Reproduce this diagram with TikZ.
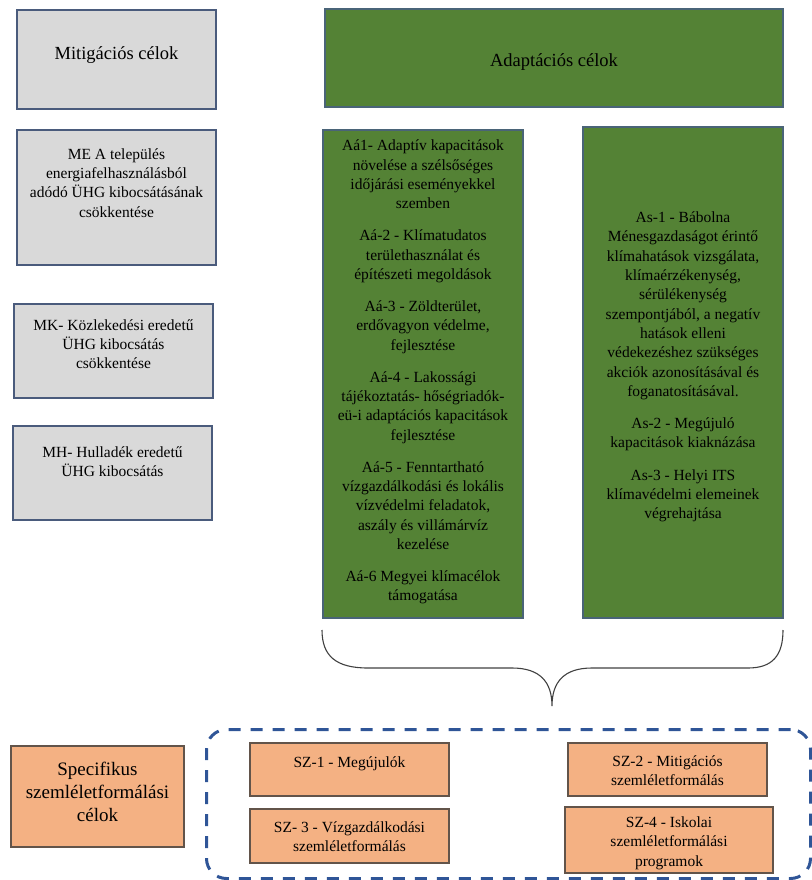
\documentclass[tikz,border=0pt]{standalone}
\usepackage{fontspec}
\setmainfont{Liberation Serif}
\definecolor{grayfill}{HTML}{D9D9D9}
\definecolor{grayedge}{HTML}{4A5B7C}
\definecolor{greenfill}{HTML}{548235}
\definecolor{greenedge}{HTML}{4A6478}
\definecolor{orangefill}{HTML}{F4B183}
\definecolor{orangeedge}{HTML}{62544A}
\definecolor{dashblue}{HTML}{2F5597}
\definecolor{bracegray}{HTML}{404040}
\tikzset{
  boxbase/.style={anchor=north west, inner sep=0pt, outer sep=0pt},
  graybox/.style={boxbase, draw=grayedge, fill=grayfill, line width=1.3pt},
  greenbox/.style={boxbase, draw=greenedge, fill=greenfill, line width=1.2pt},
  orangebox/.style={boxbase, draw=orangeedge, fill=orangefill, line width=1.2pt},
  bodytxt/.style={align=center, inner sep=0pt, font=\fontsize{15.5}{19.3}\selectfont},
  titletxt/.style={align=center, inner sep=0pt, font=\fontsize{18.5}{22}\selectfont},
  spectxt/.style={align=center, inner sep=0pt, font=\fontsize{19}{23.3}\selectfont},
  dashbox/.style={anchor=north west, draw=dashblue, line width=3pt, dash pattern=on 12pt off 10pt, rounded corners=20pt},
  bracestyle/.style={draw=bracegray, line width=1.1pt}
}
\begin{document}
\begin{tikzpicture}[x=1pt, y=-1pt]
\useasboundingbox (0,0) rectangle (811,880);

% left column
\node[graybox, minimum width=199pt, minimum height=99pt] (mit) at (17,10) {};
\node[titletxt] (mitT) at (116.5,55) {Mitigációs célok};

\node[graybox, minimum width=199pt, minimum height=135pt] (me) at (17,130) {};
\node[bodytxt] (meT) at (116.5,183) {ME A település\\energiafelhasználásból\\adódó ÜHG kibocsátásának\\csökkentése};

\node[graybox, minimum width=199pt, minimum height=94pt] (mk) at (14,304) {};
\node[bodytxt] (mkT) at (113.5,344) {MK- Közlekedési eredetű\\ÜHG kibocsátás\\csökkentése};

\node[graybox, minimum width=199pt, minimum height=94pt] (mh) at (13,426) {};
\node[bodytxt] (mhT) at (112.5,462) {MH- Hulladék eredetű\\ÜHG kibocsátás};

% adaptation
\node[greenbox, minimum width=458pt, minimum height=98pt] (ad) at (325,9) {};
\node[titletxt] (adT) at (554,62) {Adaptációs célok};

\node[greenbox, minimum width=200pt, minimum height=488pt] (aa) at (323,130) {};
\node[bodytxt] (aaT) at (423,372) {Aá1- Adaptív kapacitások\\növelése a szélsőséges\\időjárási eseményekkel\\szemben\\[12.8pt]
Aá-2 - Klímatudatos\\területhasználat és\\építészeti megoldások\\[12.8pt]
Aá-3 - Zöldterület,\\erdővagyon védelme,\\fejlesztése\\[12.8pt]
Aá-4 - Lakossági\\tájékoztatás- hőségriadók-\\eü-i adaptációs kapacitások\\fejlesztése\\[12.8pt]
Aá-5 - Fenntartható\\vízgazdálkodási és lokális\\vízvédelmi feladatok,\\aszály és villámárvíz\\kezelése\\[12.8pt]
Aá-6 Megyei klímacélok\\támogatása};

\node[greenbox, minimum width=200pt, minimum height=491pt] (as) at (583,127) {};
\node[bodytxt] (asT) at (683,367) {As-1 - Bábolna\\Ménesgazdaságot érintő\\klímahatások vizsgálata,\\klímaérzékenység,\\sérülékenység\\szempontjából, a negatív\\hatások elleni\\védekezéshez szükséges\\akciók azonosításával és\\foganatosításával.\\[13pt]
As-2 - Megújuló\\kapacitások kiaknázása\\[13pt]
As-3 - Helyi ITS\\klímavédelmi elemeinek\\végrehajtása};

% brace
\coordinate (brL) at (322,630);
\coordinate (brR) at (783,630);
\coordinate (brT) at (552,706);
\draw[bracestyle] (brL) .. controls (322,656) and (336,668) .. (368,668) -- (512,668)
  .. controls (540,668) and (552,682) .. (brT)
  .. controls (552,682) and (564,668) .. (592,668) -- (748,668)
  .. controls (772,668) and (783,656) .. (brR);

% specific
\node[orangebox, minimum width=173pt, minimum height=101pt] (sp) at (11,746) {};
\node[spectxt] (spT) at (97.5,792) {Specifikus\\szemléletformálási\\célok};

\node[dashbox, minimum width=604pt, minimum height=149pt] (dz) at (205,728) {};

\node[orangebox, minimum width=199pt, minimum height=53pt] (sz1) at (250,743) {};
\node[bodytxt] (sz1T) at (349.5,764) {SZ-1 - Megújulók};

\node[orangebox, minimum width=199pt, minimum height=54pt] (sz3) at (250,809) {};
\node[bodytxt] (sz3T) at (349.5,837) {SZ- 3 - Vízgazdálkodási\\szemléletformálás};

\node[orangebox, minimum width=199pt, minimum height=53pt] (sz2) at (568,743) {};
\node[bodytxt] (sz2T) at (667.5,771) {SZ-2 - Mitigációs\\szemléletformálás};

\node[orangebox, minimum width=208pt, minimum height=66pt] (sz4) at (565,807) {};
\node[bodytxt] (sz4T) at (669,843) {SZ-4 - Iskolai\\szemléletformálási\\programok};
\end{tikzpicture}
\end{document}
